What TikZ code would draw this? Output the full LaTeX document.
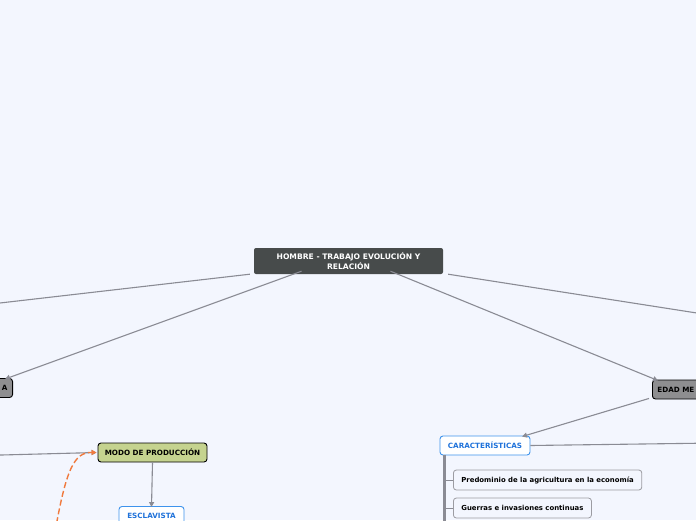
\documentclass[tikz,border=0pt]{standalone}
\usepackage{fontspec}
\setmainfont{DejaVu Sans}
\usetikzlibrary{arrows.meta,positioning,calc}
\definecolor{bgblue}{HTML}{F3F6FE}
\definecolor{rootgray}{HTML}{474B4B}
\definecolor{eragray}{HTML}{8E8E90}
\definecolor{linkgray}{HTML}{8A8B94}
\definecolor{modogreen}{HTML}{C5D38F}
\definecolor{subblue}{HTML}{3E93EC}
\definecolor{subtext}{HTML}{1F72DA}
\definecolor{itemborder}{HTML}{9C9CA2}
\definecolor{dashorange}{HTML}{F07A3E}

\begin{document}
\begin{tikzpicture}[x=1pt,y=-1pt,
    every node/.style={font=\bfseries\fontsize{7.2}{9}\selectfont},
    central/.style={fill=rootgray,text=white,rounded corners=2pt,minimum width=189pt,minimum height=26pt,align=center,inner sep=2pt,font=\bfseries\fontsize{7.6}{9.5}\selectfont},
    era/.style={fill=eragray,draw=black,line width=0.9pt,rounded corners=3pt,minimum height=19pt,inner xsep=5pt},
    modo/.style={fill=modogreen,draw=black,line width=0.9pt,rounded corners=3pt,minimum width=109pt,minimum height=19pt},
    sub/.style={fill=white,draw=subblue,text=subtext,line width=0.9pt,rounded corners=3pt,minimum height=19pt},
    item/.style={fill=bgblue,draw=itemborder,line width=0.8pt,rounded corners=3pt,minimum height=20pt,inner xsep=8pt,font=\bfseries\fontsize{6.9}{8}\selectfont},
    link/.style={draw=linkgray,line width=1.1pt},
    arrow/.style={link,-{Triangle[length=5pt,width=5pt]}}]
\useasboundingbox (0,0) rectangle (696,520);
\clip (0,0) rectangle (696,520);
\fill[bgblue] (0,0) rectangle (696,520);

% main topic
\node[central] (root) at (348.5,261) {HOMBRE - TRABAJO EVOLUCIÓN Y\\RELACIÓN};

% eras (cut at the border)
\node[era,anchor=east,text width=40pt,align=right] (antigua) at (13,388) {A};
\node[era,anchor=west,text width=60pt,align=left] (media) at (652,389.5) {EDAD ME};
\coordinate (offleft) at (-20,305.3);
\coordinate (offright) at (716,316);

\draw[link] ([xshift=-4pt]root.south west) -- (offleft);
\draw[link] ([xshift=5pt]root.south east) -- (offright);
\draw[arrow] ([xshift=-47pt,yshift=3pt]root.south) -- ([xshift=-8pt,yshift=-1pt]antigua.north east);
\draw[arrow] ([xshift=42pt,yshift=3pt]root.south) -- ([xshift=6pt,yshift=-1pt]media.north west);

% modo de produccion
\node[modo] (modo) at (152.5,452.5) {MODO DE PRODUCCIÓN};
\node[sub,minimum width=65pt] (esclavista) at (151.5,516) {ESCLAVISTA};
\coordinate (modoin) at (-10,455.3);
\coordinate (dashin) at (55,532);
\draw[arrow] (modoin) -- ([xshift=-1pt]modo.west);
\draw[dashorange,line width=1.4pt,dash pattern=on 6pt off 3pt,-{Triangle[length=5pt,width=5pt]}]
    (dashin) .. controls (66,470) and (74,452) .. ([xshift=-1pt]modo.west);
\draw[arrow] (modo.south) -- ([yshift=-1pt]esclavista.north);

% edad media
\node[sub,minimum width=90pt] (carac) at (485,445.5) {CARACTERÍSTICAS};
\coordinate (caracout) at (716,443);
\draw[link] (carac.east) -- (caracout);
\draw[arrow] ([xshift=-3pt,yshift=1pt]media.south west) -- ([xshift=37pt,yshift=-1pt]carac.north);

\coordinate (bartop) at ([xshift=5pt]carac.south west);
\draw[linkgray,line width=2.6pt] (bartop) -- ++(0,80);
\foreach \t [count=\i] in {Predominio de la agricultura en la economía,Guerras e invasiones continuas} {
    \node[item,anchor=west] (item\i) at (453,{480+28*(\i-1)}) {\t};
    \draw[linkgray,line width=1pt] (item\i.west) -- (item\i.west -| bartop);
}
\end{tikzpicture}
\end{document}
